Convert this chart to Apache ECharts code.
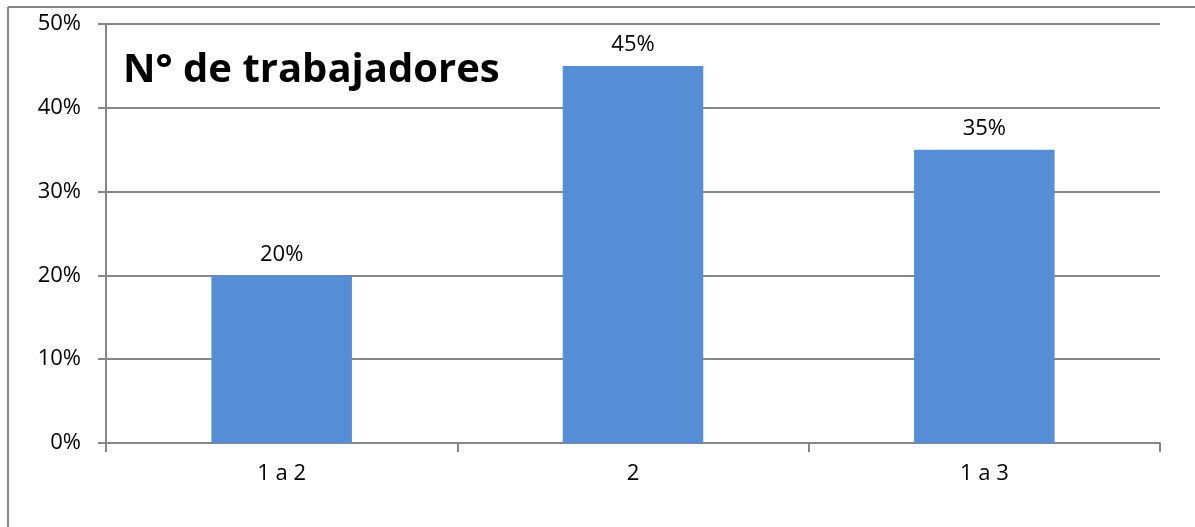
<!DOCTYPE html>
<html><head><meta charset="utf-8">
<script src="https://cdn.jsdelivr.net/npm/echarts@6/dist/echarts.min.js"></script>
<style>html,body{margin:0;padding:0;background:#fff}#c{width:1195px;height:527px}</style>
</head><body><div id="c"></div>
<script>
const categories = ['1 a 2', '2', '1 a 3'];
const values = [20, 45, 35];
const titleText = 'N° de trabajadores';
const chart = echarts.init(document.getElementById('c'));
const font = '"Open Sans", "Liberation Sans", sans-serif';
chart.setOption({
  animation: false,
  title: { text: titleText, left: 118, top: 46, textStyle: { fontFamily: font, fontWeight: 'bold', fontSize: 40, color: '#000' } },
  grid: { left: 106, right: 35, top: 24, bottom: 84, containLabel: false },
  xAxis: {
    type: 'category', data: categories,
    axisLine: { lineStyle: { color: '#878787', width: 2 } },
    axisTick: { show: true, length: 9, lineStyle: { color: '#878787', width: 2 } },
    axisLabel: { fontFamily: font, fontSize: 22, color: '#000', margin: 20 }
  },
  yAxis: {
    type: 'value', min: 0, max: 50, interval: 10,
    axisLine: { show: true, lineStyle: { color: '#878787', width: 2 } },
    axisTick: { show: true, length: 8, lineStyle: { color: '#878787', width: 2 } },
    splitLine: { lineStyle: { color: '#878787', width: 2 } },
    axisLabel: { formatter: '{value}%', fontFamily: font, fontSize: 22, color: '#000', margin: 25 }
  },
  series: [{
    type: 'bar', data: values, barWidth: '40%',
    itemStyle: { color: '#558ED5' },
    label: { show: true, position: 'top', formatter: '{c}%', fontFamily: font, fontSize: 22, color: '#000', distance: 10 }
  }],
  graphic: [
    { type: 'line', shape: { x1: 8, y1: 7, x2: 1195, y2: 7 }, style: { stroke: '#878787', lineWidth: 2 } },
    { type: 'line', shape: { x1: 8, y1: 7, x2: 8, y2: 527 }, style: { stroke: '#878787', lineWidth: 2 } }
  ]
});
</script></body></html>
